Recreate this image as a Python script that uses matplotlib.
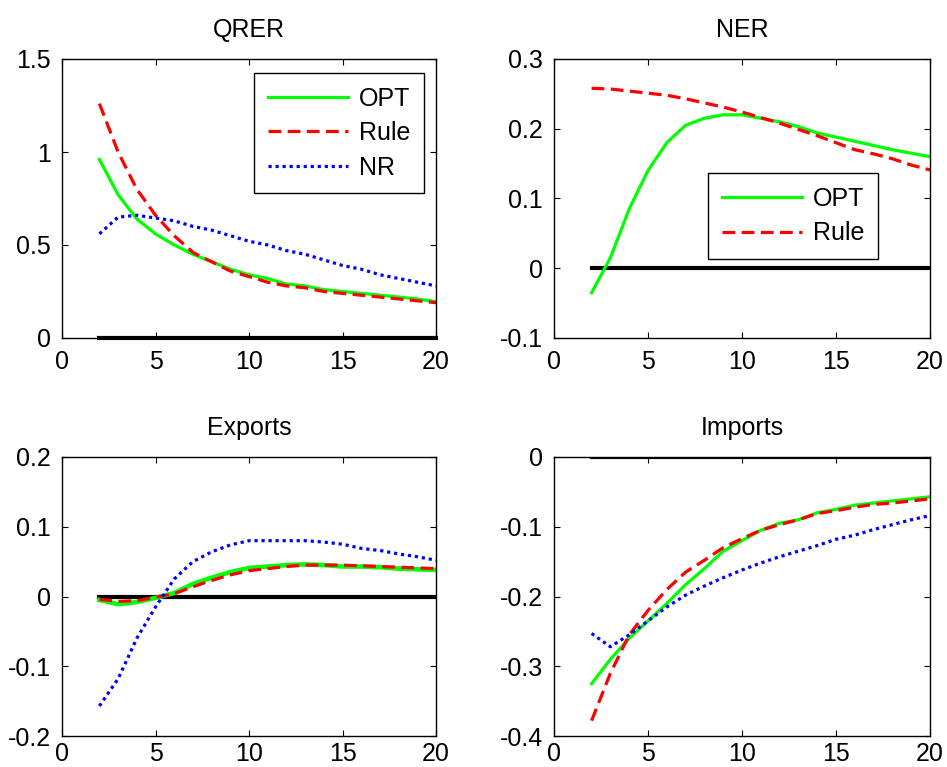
import numpy as np
import matplotlib.pyplot as plt

plt.rcParams['font.family'] = ['Liberation Sans', 'DejaVu Sans']

periods = np.arange(2, 21)

qrer_opt = [0.96, 0.77, 0.64, 0.56, 0.50, 0.45, 0.41, 0.37, 0.34, 0.32, 0.29, 0.28, 0.26, 0.25, 0.24, 0.23, 0.22, 0.21, 0.195]
qrer_rule = [1.26, 1.00, 0.80, 0.66, 0.55, 0.46, 0.41, 0.36, 0.33, 0.30, 0.28, 0.27, 0.25, 0.24, 0.23, 0.22, 0.21, 0.20, 0.19]
qrer_nr = [0.56, 0.65, 0.66, 0.645, 0.63, 0.60, 0.58, 0.55, 0.52, 0.50, 0.47, 0.45, 0.42, 0.39, 0.37, 0.34, 0.32, 0.30, 0.28]

ner_opt = [-0.035, 0.015, 0.085, 0.14, 0.18, 0.205, 0.215, 0.22, 0.22, 0.215, 0.21, 0.203, 0.194, 0.188, 0.182, 0.176, 0.17, 0.165, 0.16]
ner_rule = [0.258, 0.257, 0.254, 0.251, 0.248, 0.243, 0.237, 0.231, 0.224, 0.216, 0.208, 0.199, 0.19, 0.18, 0.17, 0.164, 0.157, 0.148, 0.141]

exp_opt = [-0.005, -0.011, -0.008, -0.002, 0.005, 0.018, 0.027, 0.035, 0.041, 0.043, 0.045, 0.046, 0.045, 0.043, 0.043, 0.042, 0.040, 0.039, 0.038]
exp_rule = [-0.004, -0.007, -0.006, -0.001, 0.004, 0.014, 0.023, 0.031, 0.037, 0.040, 0.043, 0.045, 0.045, 0.045, 0.044, 0.043, 0.042, 0.041, 0.040]
exp_nr = [-0.157, -0.118, -0.06, -0.015, 0.025, 0.05, 0.064, 0.074, 0.08, 0.08, 0.08, 0.08, 0.078, 0.075, 0.069, 0.066, 0.061, 0.057, 0.052]

imp_opt = [-0.325, -0.29, -0.26, -0.235, -0.21, -0.183, -0.16, -0.135, -0.12, -0.105, -0.095, -0.09, -0.08, -0.075, -0.069, -0.066, -0.063, -0.06, -0.057]
imp_rule = [-0.378, -0.31, -0.255, -0.22, -0.19, -0.165, -0.148, -0.13, -0.117, -0.105, -0.097, -0.09, -0.081, -0.077, -0.072, -0.068, -0.066, -0.063, -0.06]
imp_nr = [-0.253, -0.272, -0.255, -0.235, -0.215, -0.198, -0.185, -0.173, -0.162, -0.152, -0.143, -0.135, -0.127, -0.118, -0.112, -0.104, -0.097, -0.09, -0.084]

fig = plt.figure(figsize=(9.47, 7.67), dpi=100)

W, H = 947, 767
def box(l, t, r, b):
    return [l / W, 1 - b / H, (r - l) / W, (b - t) / H]

ax1 = fig.add_axes(box(62, 59, 436, 338))
ax2 = fig.add_axes(box(554, 59, 930, 338))
ax3 = fig.add_axes(box(62, 457, 436, 736))
ax4 = fig.add_axes(box(554, 457, 930, 736))

fs = 18
lw = 2.3
dash = (0, (4, 2))
dot = (0, (1, 1.2))

def style(ax, title, ylim, yticks, xpad=9):
    ax.set_title(title, fontsize=fs, pad=16)
    ax.set_xlim(0, 20)
    ax.set_ylim(*ylim)
    ax.set_xticks([0, 5, 10, 15, 20])
    ax.set_yticks(yticks)
    ax.set_yticklabels(['%g' % v for v in yticks])
    ax.tick_params(direction='in', length=4, width=0.8, labelsize=fs, top=True, right=True)
    ax.tick_params(axis='x', pad=xpad)
    ax.tick_params(axis='y', pad=8)
    for s in ax.spines.values():
        s.set_linewidth(1.0)

def legend(ax, anchor):
    leg = ax.legend(loc='upper right', bbox_to_anchor=anchor, borderaxespad=0, fontsize=fs,
                    handlelength=3.2, handletextpad=0.45, fancybox=False, edgecolor='black',
                    framealpha=1, borderpad=0.55, labelspacing=0.42)
    leg.get_frame().set_linewidth(1.0)

# QRER
ax1.plot(periods, np.zeros(len(periods)), color='black', lw=3, clip_on=False, zorder=1)
ax1.plot(periods, qrer_opt, color='#00ff00', lw=lw, label='OPT')
ax1.plot(periods, qrer_rule, color='red', lw=lw, ls=dash, label='Rule')
ax1.plot(periods, qrer_nr, color='blue', lw=lw, ls=dot, label='NR')
style(ax1, 'QRER', (0, 1.5), [0, 0.5, 1, 1.5])
legend(ax1, (0.968, 0.95))

# NER
ax2.plot(periods, np.zeros(len(periods)), color='black', lw=3, zorder=1)
ax2.plot(periods, ner_opt, color='#00ff00', lw=lw, label='OPT')
ax2.plot(periods, ner_rule, color='red', lw=lw, ls=dash, label='Rule')
style(ax2, 'NER', (-0.1, 0.3), [-0.1, 0, 0.1, 0.2, 0.3])
legend(ax2, (0.862, 0.591))

# Exports
ax3.plot(periods, np.zeros(len(periods)), color='black', lw=3, zorder=1)
ax3.plot(periods, exp_opt, color='#00ff00', lw=lw + 1)
ax3.plot(periods, exp_rule, color='red', lw=lw, ls=dash)
ax3.plot(periods, exp_nr, color='blue', lw=lw, ls=dot)
style(ax3, 'Exports', (-0.2, 0.2), [-0.2, -0.1, 0, 0.1, 0.2], xpad=4)

# Imports
ax4.plot(periods, np.zeros(len(periods)), color='black', lw=3, zorder=1)
ax4.plot(periods, imp_opt, color='#00ff00', lw=lw)
ax4.plot(periods, imp_rule, color='red', lw=lw, ls=dash)
ax4.plot(periods, imp_nr, color='blue', lw=lw, ls=dot)
style(ax4, 'Imports', (-0.4, 0), [-0.4, -0.3, -0.2, -0.1, 0], xpad=4)

fig.savefig('out.png', dpi=100)
